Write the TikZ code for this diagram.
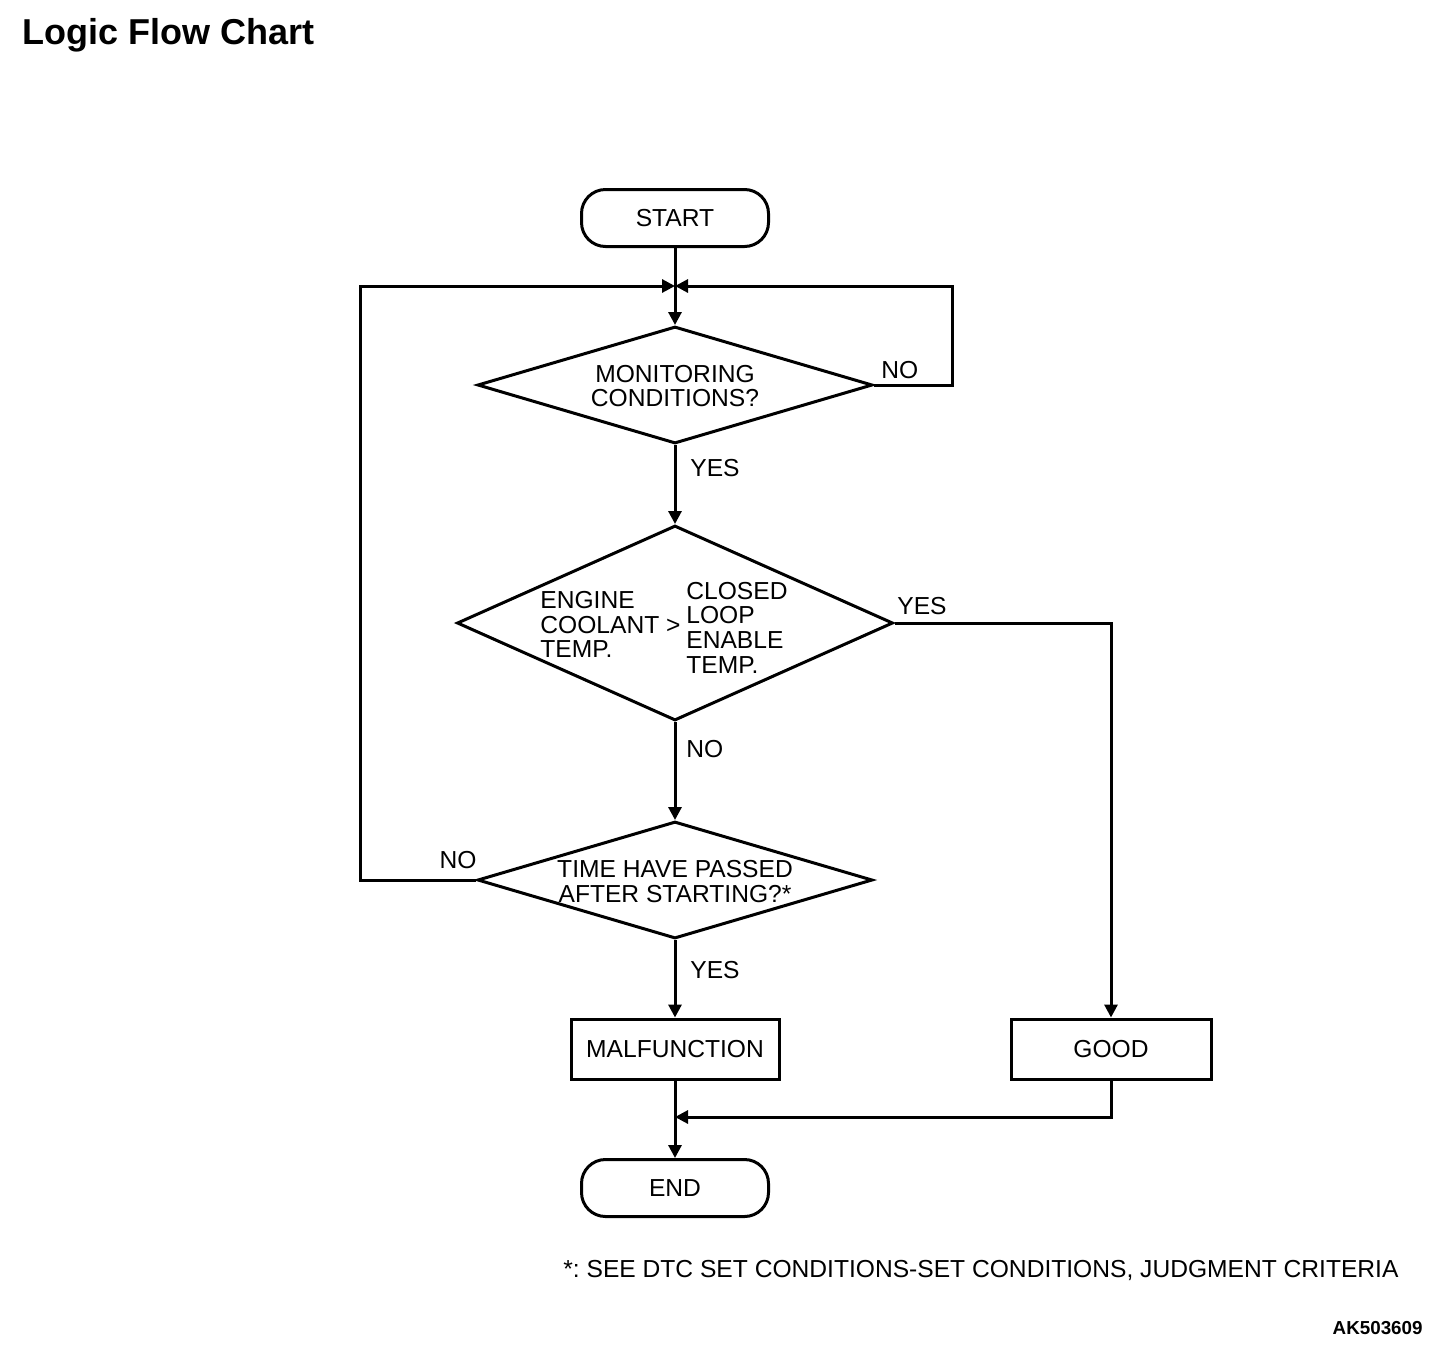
\documentclass[tikz,border=0pt]{standalone}
\usepackage{fontspec}
\setmainfont{Liberation Sans}
\usetikzlibrary{shapes.geometric,arrows.meta}
\frenchspacing

\tikzset{
    flow/.style = {line width=1.5pt, line join=miter},
    arr/.style = {flow, -{Triangle[length=6.5pt,width=6.5pt]}},
    terminal/.style = {draw, flow, rectangle, rounded corners=12pt, minimum width=93.5pt, minimum height=28.5pt, inner sep=0pt},
    process/.style = {draw, flow, rectangle, minimum height=30pt, inner sep=0pt},
    decision/.style = {draw, flow, diamond, inner sep=0pt},
    txt/.style = {inner sep=0pt, align=center, font=\fontsize{12.3}{12.3}\selectfont},
    lbl/.style = {inner sep=0pt, font=\fontsize{12.3}{12.3}\selectfont}
}

\begin{document}
\begin{tikzpicture}[x=0.5pt, y=-0.5pt]
    \useasboundingbox (0,0) rectangle (1456,1350);

    \node[anchor=base west, inner sep=0pt, font=\fontsize{18}{18}\selectfont\bfseries] (title) at (22,44) {Logic Flow Chart};

    % terminals and boxes
    \node[terminal, txt] (start) at (675,218) {START};
    \node[decision, minimum width=197.5pt, minimum height=58.5pt] (mon) at (675,385) {};
    \node[txt] (montxt) at (675,386) {MONITORING\\CONDITIONS?};
    \node[decision, minimum width=218pt, minimum height=97.5pt] (ect) at (675,623) {};
    \node[txt, align=left, anchor=west] (ectl) at (540,624.5) {ENGINE\\COOLANT >\\TEMP.};
    \node[txt, align=left, anchor=west] (ectr) at (686,627.5) {CLOSED\\LOOP\\ENABLE\\TEMP.};
    \node[decision, minimum width=197.5pt, minimum height=58.5pt] (time) at (675,880) {};
    \node[txt] (timetxt) at (675,881.5) {TIME HAVE PASSED\\AFTER STARTING?*};
    \node[process, txt, minimum width=104pt] (malf) at (675,1049) {MALFUNCTION};
    \node[process, txt, minimum width=100pt] (good) at (1111,1049) {GOOD};
    \node[terminal, txt] (end) at (675,1188) {END};

    \coordinate (J) at (675,286);
    \coordinate (M) at (675,1117);

    % connectors
    \draw[flow] (start.south) -- (J);
    \draw[arr] (J) -- (mon.north);
    \draw[arr] (mon.east) -- (952,385) -- (952,286) -- (J);
    \draw[arr] (time.west) -- (360,880) -- (360,286) -- (J);
    \draw[arr] (mon.south) -- (ect.north);
    \draw[arr] (ect.south) -- (time.north);
    \draw[arr] (ect.east) -- (1111,623) -- (good.north);
    \draw[arr] (time.south) -- (malf.north);
    \draw[arr] (malf.south) -- (end.north);
    \draw[arr] (good.south) -- (1111,1117) -- (M);

    % branch labels
    \node[lbl, anchor=west] (yes1) at (690,468) {YES};
    \node[lbl, anchor=west] (no1) at (881,370) {NO};
    \node[lbl, anchor=west] (yes2) at (897,606) {YES};
    \node[lbl, anchor=west] (no2) at (686,749) {NO};
    \node[lbl, anchor=east] (no3) at (477,860) {NO};
    \node[lbl, anchor=west] (yes3) at (690,970) {YES};

    \node[lbl, anchor=base west] (note) at (563,1277) {*: SEE DTC SET CONDITIONS-SET CONDITIONS, JUDGMENT CRITERIA};
    \node[anchor=base east, inner sep=0pt, font=\fontsize{9.4}{9.4}\selectfont\bfseries] (code) at (1423,1334) {AK503609};
\end{tikzpicture}
\end{document}
